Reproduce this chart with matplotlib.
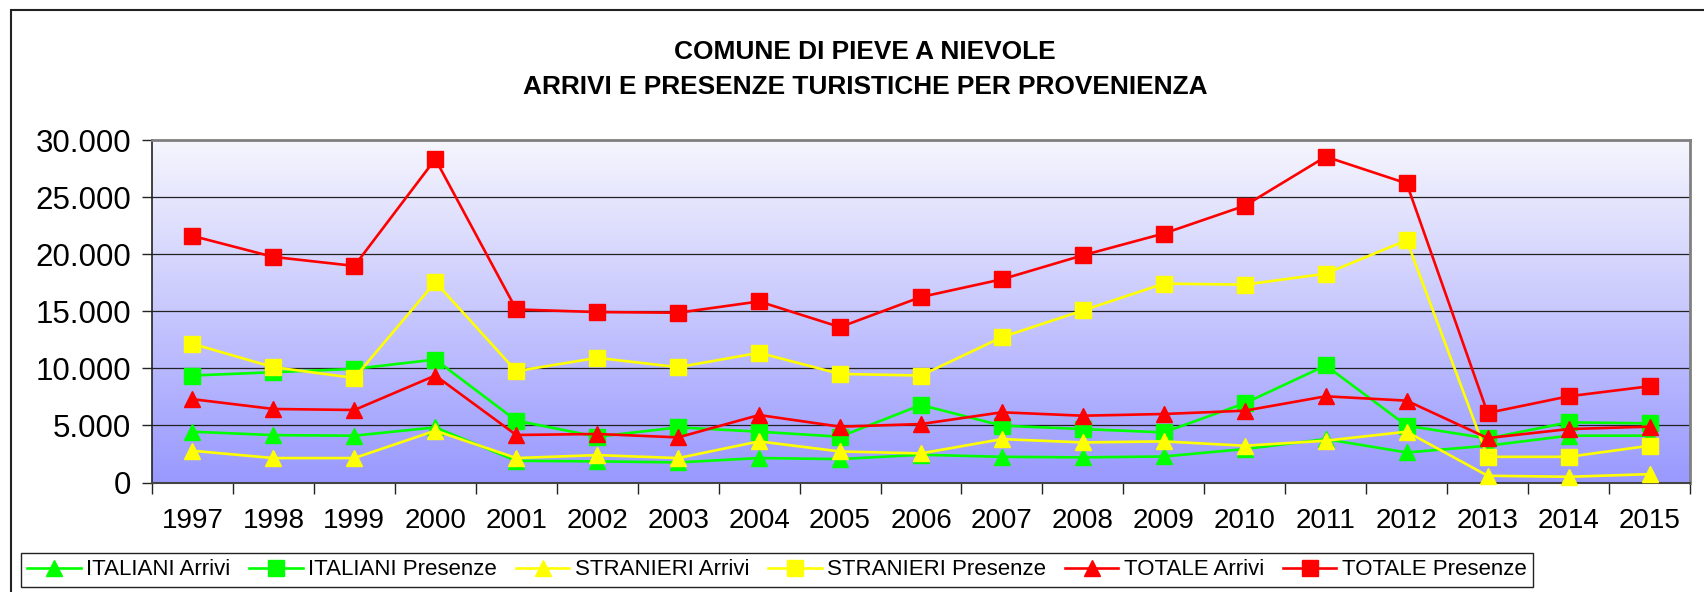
import numpy as np
import matplotlib
matplotlib.use("Agg")
import matplotlib.pyplot as plt
from matplotlib.patches import Rectangle
from matplotlib.ticker import FuncFormatter, FixedLocator

plt.rcParams['font.family'] = ['Liberation Sans', 'DejaVu Sans']

years = [str(y) for y in range(1997, 2016)]

ita_arrivi = [4450, 4150, 4100, 4830, 1900, 1850, 1760, 2140, 2050, 2430,
              2250, 2200, 2280, 2930, 3800, 2630, 3220, 4100, 4100]
ita_presenze = [9370, 9660, 9950, 10770, 5420, 4010, 4830, 4450, 4010, 6790,
                4980, 4680, 4390, 6940, 10250, 4980, 3860, 5270, 5180]
stra_arrivi = [2780, 2140, 2140, 4540, 2140, 2400, 2140, 3600, 2720, 2550,
               3800, 3510, 3600, 3220, 3660, 4450, 590, 500, 730]
stra_presenze = [12150, 10100, 9160, 17560, 9750, 10920, 10100, 11360, 9510, 9370,
                 12730, 15070, 17420, 17330, 18290, 21220, 2250, 2250, 3220]
tot_arrivi = [7300, 6440, 6350, 9370, 4160, 4250, 3950, 5910, 4890, 5120,
              6150, 5850, 6000, 6290, 7550, 7170, 3890, 4680, 4890]
tot_presenze = [21600, 19760, 18970, 28330, 15160, 14930, 14870, 15860, 13610, 16250,
                17800, 19900, 21810, 24240, 28540, 26200, 6090, 7550, 8430]

series = [
    ("ITALIANI Arrivi", ita_arrivi, "#00FF00", "^"),
    ("ITALIANI Presenze", ita_presenze, "#00FF00", "s"),
    ("STRANIERI Arrivi", stra_arrivi, "#FFFF00", "^"),
    ("STRANIERI Presenze", stra_presenze, "#FFFF00", "s"),
    ("TOTALE Arrivi", tot_arrivi, "#FF0000", "^"),
    ("TOTALE Presenze", tot_presenze, "#FF0000", "s"),
]

W, H = 1704, 592
fig = plt.figure(figsize=(W / 100, H / 100), dpi=100)
ax = fig.add_axes([152 / W, 1 - 482.5 / H, (1690 - 152) / W, (482.5 - 140) / H])

x = np.arange(len(years))

# gradient background of the plot area (light at top, lavender at bottom)
top = np.array([246, 246, 253]) / 255
bot = np.array([153, 153, 255]) / 255
t = np.linspace(0, 1, 256)[:, None]
grad = (top * (1 - t) + bot * t)[:, None, :]
ax.imshow(grad, extent=(-0.5, len(years) - 0.5, 0, 30000), aspect='auto',
          zorder=0, interpolation='bilinear')
ax.set_xlim(-0.5, len(years) - 0.5)
ax.set_ylim(0, 30000)

for v in range(5000, 30000, 5000):
    ax.axhline(v, color='#222222', lw=0.9, zorder=1)

for label, vals, col, mk in series:
    ax.plot(x, vals, color=col, lw=1.9, marker=mk, markersize=11.5,
            markeredgecolor=col, label=label, zorder=3, clip_on=False)

# axes styling
ax.spines['top'].set_color('#808080')
ax.spines['right'].set_color('#808080')
ax.spines['top'].set_linewidth(2)
ax.spines['right'].set_linewidth(2)
ax.spines['left'].set_color('#222222')
ax.spines['bottom'].set_color('#444444')
ax.spines['left'].set_linewidth(1.2)
ax.spines['bottom'].set_linewidth(1.5)

ax.yaxis.set_major_locator(FixedLocator(range(0, 30001, 5000)))
ax.yaxis.set_major_formatter(FuncFormatter(lambda v, p: f"{int(v):,}".replace(",", ".")))
ax.tick_params(axis='y', direction='out', length=7, width=1, pad=8, labelsize=22.5,
               colors='#222222', labelcolor='black')

ax.set_xticks(np.arange(-0.5, len(years), 1.0))
ax.set_xticklabels([])
ax.set_xticks(x, minor=True)
ax.set_xticklabels(years, minor=True)
ax.tick_params(axis='x', which='major', direction='out', length=8, width=1, colors='#222222')
ax.tick_params(axis='x', which='minor', length=0, pad=18, labelsize=20)

fig.text(865 / W, 1 - 52 / H, "COMUNE DI PIEVE A NIEVOLE", ha='center', va='center',
         fontsize=18.9, fontweight='bold')
fig.text(865 / W, 1 - 87 / H, "ARRIVI E PRESENZE TURISTICHE PER PROVENIENZA", ha='center',
         va='center', fontsize=18.9, fontweight='bold')

# outer chart border (extends past the right and bottom edges)
fig.patches.append(Rectangle((11 / W, -0.1), 1.2, 1 - 10 / H + 0.1, transform=fig.transFigure,
                             fill=False, edgecolor='#222222', lw=1.5))

leg = fig.legend(loc='lower left', bbox_to_anchor=(20.7 / W, 1 - 587 / H), ncol=6,
                 fontsize=16, handlelength=2.4, handletextpad=0.25, columnspacing=0.85,
                 borderpad=0.3, borderaxespad=0, fancybox=False, framealpha=1,
                 edgecolor='#222222', markerscale=0.95)
leg.get_frame().set_linewidth(1)

fig.savefig("out.png", dpi=100)
